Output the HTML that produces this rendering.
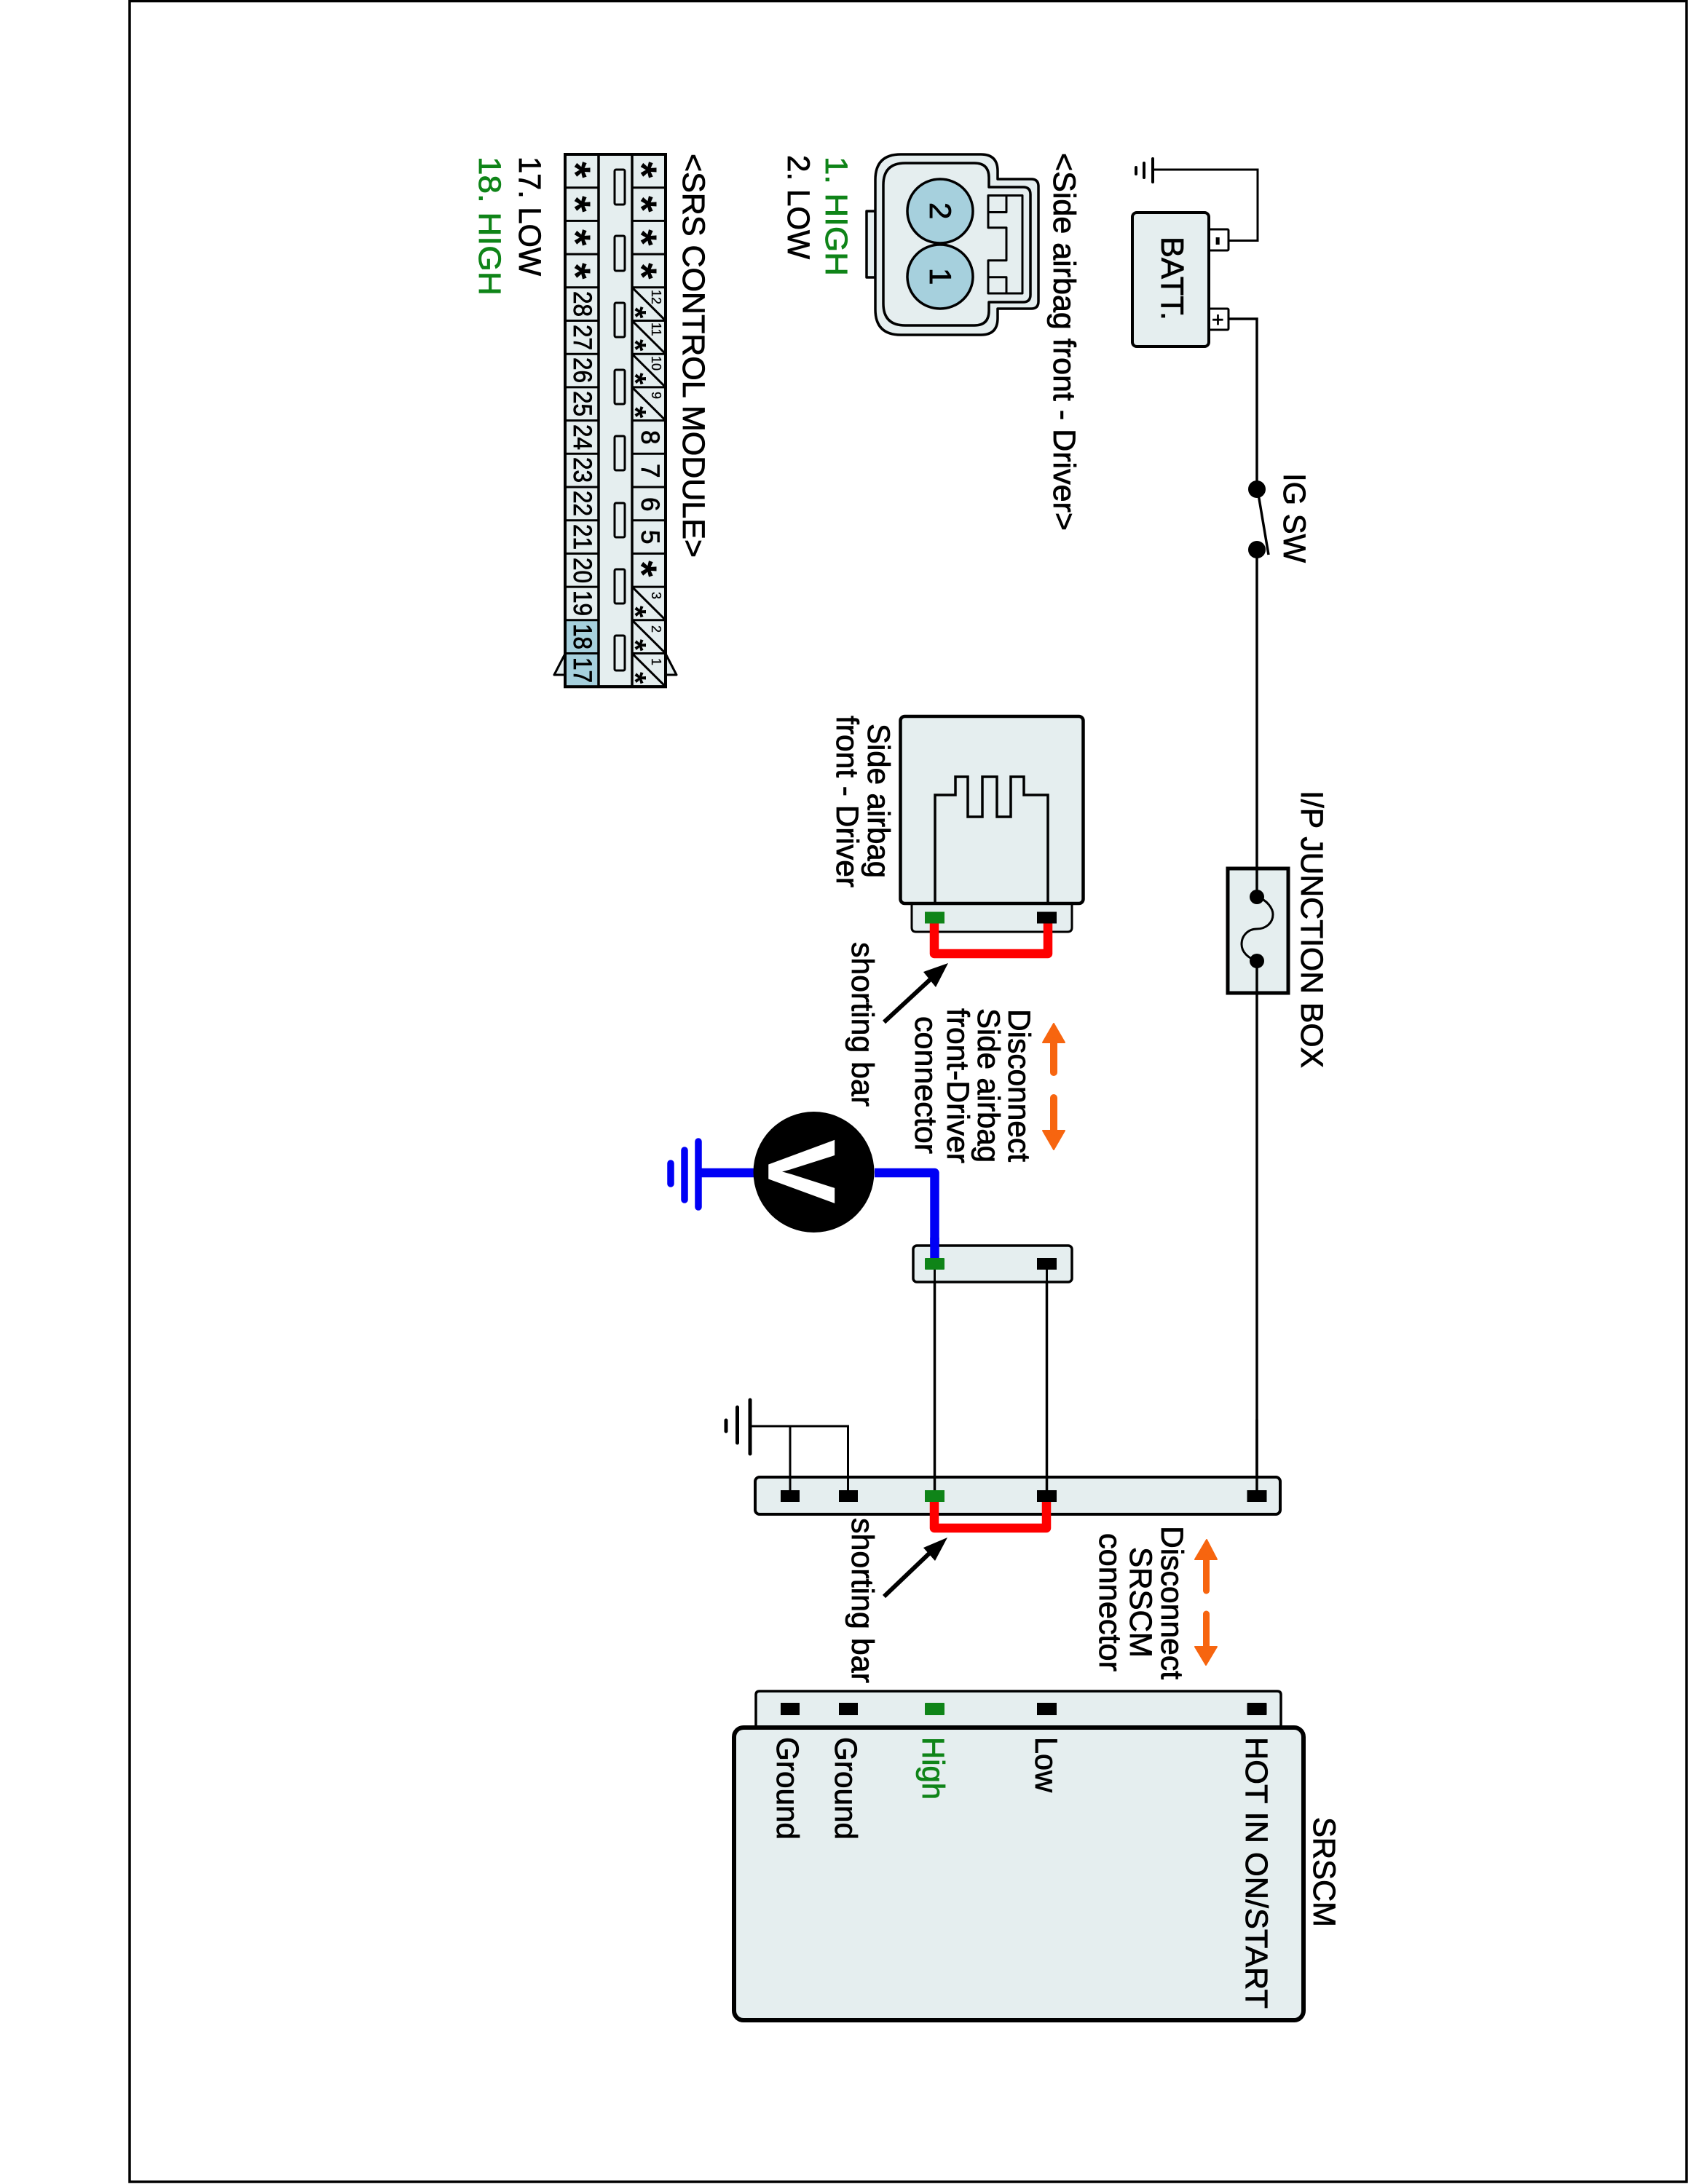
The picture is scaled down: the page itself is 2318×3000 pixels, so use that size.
<!DOCTYPE html>
<html>
<head>
<meta charset="utf-8">
<style>
html,body{margin:0;padding:0;background:#fff}
svg{display:block}
text{font-family:"Liberation Sans",Arial,sans-serif;fill:#000;stroke:#000;stroke-width:.8px}
.g{fill:#0f8418;stroke:#0f8418}
.n{font-size:35px}
.s{font-size:18px;stroke-width:.3px}
.a{font-size:58px;font-weight:bold;stroke-width:0}
.b{font-size:42px;font-weight:bold;stroke-width:0}
.l{font-size:43px}
</style>
</head>
<body>
<svg width="2318" height="3000" viewBox="0 0 2318 3000" xmlns="http://www.w3.org/2000/svg">
<rect width="2318" height="3000" fill="#fff"/>
<!-- frame -->
<path d="M178 1.5H2316V2997H178Z" fill="none" stroke="#000" stroke-width="3.5"/>

<!-- SRS control module connector -->
<g stroke="#000" stroke-width="3" fill="#e5eeef">
<path d="M776 898L761 927H776Z" stroke-linejoin="round"/>
<path d="M914 898L929 927H914Z" stroke-linejoin="round"/>
<rect x="776" y="212" width="138" height="731.2" stroke-width="4"/>
<rect x="776" y="851.8" width="46" height="91.4" fill="#a6d0dd" stroke="none"/>
<path fill="none" stroke-width="3.5" d="M822 212V943M868 212V943"/>
<path fill="none" stroke-width="3" d="M776 257.7H822M776 303.4H822M776 349.1H822M776 394.8H822M776 440.5H822M776 486.2H822M776 531.9H822M776 577.6H822M776 623.3H822M776 669H822M776 714.7H822M776 760.4H822M776 806.1H822M776 851.8H822M776 897.5H822"/>
<path fill="none" stroke-width="3" d="M868 257.7H914M868 303.4H914M868 349.1H914M868 394.8H914M868 440.5H914M868 486.2H914M868 531.9H914M868 577.6H914M868 623.3H914M868 669H914M868 714.7H914M868 760.4H914M868 806.1H914M868 851.8H914M868 897.5H914"/>
<path fill="none" stroke-width="3" d="M868 394.8L914 440.5M868 440.5L914 486.2M868 486.2L914 531.9M868 531.9L914 577.6M868 806.1L914 851.8M868 851.8L914 897.5M868 897.5L914 943.2"/>
<rect x="776" y="212" width="138" height="731.2" fill="none" stroke-width="4"/>
<g stroke-width="3">
<rect x="844" y="233" width="14" height="48" rx="2"/>
<rect x="844" y="324" width="14" height="48" rx="2"/>
<rect x="844" y="416" width="14" height="47" rx="2"/>
<rect x="844" y="508" width="14" height="47" rx="2"/>
<rect x="844" y="599" width="14" height="47" rx="2"/>
<rect x="844" y="691" width="14" height="47" rx="2"/>
<rect x="844" y="782" width="14" height="47" rx="2"/>
<rect x="844" y="873" width="14" height="48" rx="2"/>
</g>
</g>
<!-- asterisks -->
<text class="a" transform="translate(770,222) rotate(90)">*</text>
<text class="a" transform="translate(770,269) rotate(90)">*</text>
<text class="a" transform="translate(770,315) rotate(90)">*</text>
<text class="a" transform="translate(770,361) rotate(90)">*</text>
<text class="a" transform="translate(861,222) rotate(90)">*</text>
<text class="a" transform="translate(861,269) rotate(90)">*</text>
<text class="a" transform="translate(861,315) rotate(90)">*</text>
<text class="a" transform="translate(861,361) rotate(90)">*</text>
<text class="a" transform="translate(861,770) rotate(90)">*</text>
<text class="b" transform="translate(858,421) rotate(90)">*</text>
<text class="b" transform="translate(858,466) rotate(90)">*</text>
<text class="b" transform="translate(858,512) rotate(90)">*</text>
<text class="b" transform="translate(858,558) rotate(90)">*</text>
<text class="b" transform="translate(858,832) rotate(90)">*</text>
<text class="b" transform="translate(858,878) rotate(90)">*</text>
<text class="b" transform="translate(858,923) rotate(90)">*</text>
<!-- numbers left -->
<text class="n" transform="translate(788,400) rotate(90)" textLength="35" lengthAdjust="spacingAndGlyphs">28</text>
<text class="n" transform="translate(788,446) rotate(90)" textLength="35" lengthAdjust="spacingAndGlyphs">27</text>
<text class="n" transform="translate(788,491) rotate(90)" textLength="35" lengthAdjust="spacingAndGlyphs">26</text>
<text class="n" transform="translate(788,537) rotate(90)" textLength="35" lengthAdjust="spacingAndGlyphs">25</text>
<text class="n" transform="translate(788,583) rotate(90)" textLength="35" lengthAdjust="spacingAndGlyphs">24</text>
<text class="n" transform="translate(788,628) rotate(90)" textLength="35" lengthAdjust="spacingAndGlyphs">23</text>
<text class="n" transform="translate(788,674) rotate(90)" textLength="35" lengthAdjust="spacingAndGlyphs">22</text>
<text class="n" transform="translate(788,720) rotate(90)" textLength="35" lengthAdjust="spacingAndGlyphs">21</text>
<text class="n" transform="translate(788,766) rotate(90)" textLength="35" lengthAdjust="spacingAndGlyphs">20</text>
<text class="n" transform="translate(788,811) rotate(90)" textLength="35" lengthAdjust="spacingAndGlyphs">19</text>
<text class="n" transform="translate(788,857) rotate(90)" textLength="35" lengthAdjust="spacingAndGlyphs">18</text>
<text class="n" transform="translate(788,903) rotate(90)" textLength="35" lengthAdjust="spacingAndGlyphs">17</text>
<!-- numbers right -->
<text class="n" transform="translate(881,591) rotate(90)">8</text>
<text class="n" transform="translate(881,637) rotate(90)">7</text>
<text class="n" transform="translate(881,683) rotate(90)">6</text>
<text class="n" transform="translate(881,728) rotate(90)">5</text>
<text class="s" transform="translate(895,398) rotate(90)">12</text>
<text class="s" transform="translate(895,443) rotate(90)">11</text>
<text class="s" transform="translate(895,489) rotate(90)">10</text>
<text class="s" transform="translate(895,538) rotate(90)">9</text>
<text class="s" transform="translate(895,813) rotate(90)">3</text>
<text class="s" transform="translate(895,859) rotate(90)">2</text>
<text class="s" transform="translate(895,904) rotate(90)">1</text>

<text class="l" transform="translate(938,211) rotate(90)" textLength="555" lengthAdjust="spacingAndGlyphs">&lt;SRS CONTROL MODULE&gt;</text>
<text class="l" transform="translate(713,215) rotate(90)" textLength="164" lengthAdjust="spacingAndGlyphs">17. LOW</text>
<text class="l g" transform="translate(658,215) rotate(90)" textLength="191" lengthAdjust="spacingAndGlyphs">18. HIGH</text>

<!-- side airbag connector face -->
<g stroke="#000" fill="#e5eeef" stroke-width="3.5" stroke-linejoin="round">
<rect x="1190" y="290" width="12" height="91"/>
<path d="M1237 212H1347Q1370 212 1370 235V246H1416Q1426 246 1426 256V414Q1426 424 1416 424H1370V437Q1370 460 1347 460H1237Q1202 460 1202 425V247Q1202 212 1237 212Z"/>
<path d="M1243 224H1338Q1358 224 1358 244V257H1405Q1415 257 1415 267V405Q1415 415 1405 415H1358V427Q1358 447 1338 447H1243Q1213 447 1213 417V254Q1213 224 1243 224Z"/>
<path fill="none" stroke-width="3" d="M1357 268.5H1404V403H1357V357.7H1382V312.7H1357ZM1382 268.5V291.5H1357M1357 380.8H1382V403"/>
<ellipse cx="1291" cy="290" rx="45" ry="44" fill="#a6d0dd"/>
<ellipse cx="1291" cy="380" rx="45" ry="44" fill="#a6d0dd"/>
</g>
<text font-size="42" transform="translate(1277,278) rotate(90)">2</text>
<text font-size="42" transform="translate(1277,368) rotate(90)">1</text>
<text class="l" transform="translate(1447,210) rotate(90)" textLength="519" lengthAdjust="spacingAndGlyphs">&lt;Side airbag front - Driver&gt;</text>
<text class="l g" transform="translate(1134,215) rotate(90)" textLength="164" lengthAdjust="spacingAndGlyphs">1. HIGH</text>
<text class="l" transform="translate(1082,213) rotate(90)" textLength="143" lengthAdjust="spacingAndGlyphs">2. LOW</text>

<!-- battery -->
<g stroke="#000" fill="#fff" stroke-width="3">
<rect x="1660" y="315" width="27" height="29" rx="1.5"/>
<rect x="1660" y="424" width="27" height="29" rx="1.5"/>
<rect x="1555" y="292" width="105" height="184" rx="6" fill="#e5eeef" stroke-width="4"/>
</g>
<text font-size="36" font-weight="bold" transform="translate(1663,325) rotate(90)">-</text>
<text font-size="28" transform="translate(1663,431) rotate(90)">+</text>
<text font-size="44" transform="translate(1595,325) rotate(90)" textLength="115" lengthAdjust="spacingAndGlyphs">BATT.</text>
<g fill="none" stroke="#000" stroke-width="3.5">
<path d="M1687 330.5H1727V233H1583" stroke-width="3"/>
<path d="M1583 218V250M1571 224V244" stroke-width="4" stroke-linecap="round"/>
<path d="M1560 230V239" stroke-width="4" stroke-linecap="round"/>
<path d="M1687 438H1726V673"/>
<path d="M1727 673L1742 762"/>
<path d="M1726 756V1192"/>
<path d="M1726 1365V2047"/>
</g>
<circle cx="1726" cy="672" r="12"/>
<circle cx="1726" cy="755" r="12"/>
<text class="l" transform="translate(1763,650) rotate(90)" textLength="123" lengthAdjust="spacingAndGlyphs">IG SW</text>

<!-- junction box -->
<rect x="1686" y="1193" width="83" height="171" fill="#e5eeef" stroke="#000" stroke-width="5"/>
<path d="M1726 1192V1232M1726 1320V1365" stroke="#000" stroke-width="3.5" fill="none"/>
<path d="M1726 1232C1740 1236 1748 1248 1748 1256C1748 1268 1738 1276 1726 1276C1714 1276 1705 1285 1705 1297C1705 1308 1714 1316 1726 1320" fill="none" stroke="#000" stroke-width="3"/>
<circle cx="1726" cy="1232" r="10"/>
<circle cx="1726" cy="1320" r="10"/>
<text class="l" transform="translate(1787,1086) rotate(90)" textLength="381" lengthAdjust="spacingAndGlyphs">I/P JUNCTION BOX</text>

<!-- side airbag module -->
<path d="M1252 1242V1274Q1252 1280 1258 1280H1466Q1472 1280 1472 1274V1242" fill="#e5eeef" stroke="#000" stroke-width="3"/>
<rect x="1236.5" y="984" width="251" height="257" rx="6" fill="#e5eeef" stroke="#000" stroke-width="4.5"/>
<path d="M1284 1239V1092H1312V1067H1329V1122H1349V1067H1369V1122H1388V1067H1406V1092H1439V1239" fill="none" stroke="#000" stroke-width="3.5"/>
<path d="M1283 1268V1310H1439V1268" fill="none" stroke="#fe0000" stroke-width="12.5" stroke-linejoin="round"/>
<rect x="1270" y="1252.5" width="27" height="16" fill="#0f8418"/>
<rect x="1424" y="1252.5" width="27" height="16" fill="#000"/>
<path d="M1214 1404L1280 1343" stroke="#000" stroke-width="6" fill="none"/>
<path d="M1302 1323L1268 1335L1285 1356Z"/>
<text class="l" transform="translate(1170,1294) rotate(90)" textLength="226" lengthAdjust="spacingAndGlyphs">shorting bar</text>
<text class="l" transform="translate(1192,994) rotate(90)" textLength="212" lengthAdjust="spacingAndGlyphs">Side airbag</text>
<text class="l" transform="translate(1149,983) rotate(90)" textLength="236" lengthAdjust="spacingAndGlyphs">front - Driver</text>
<text class="l" transform="translate(1385,1386) rotate(90)" textLength="210" lengthAdjust="spacingAndGlyphs">Disconnect</text>
<text class="l" transform="translate(1343,1385) rotate(90)" textLength="212" lengthAdjust="spacingAndGlyphs">Side airbag</text>
<text class="l" transform="translate(1301,1385) rotate(90)" textLength="213" lengthAdjust="spacingAndGlyphs">front-Driver</text>
<text class="l" transform="translate(1257,1396) rotate(90)" textLength="189" lengthAdjust="spacingAndGlyphs">connector</text>
<!-- orange arrows -->
<g fill="#f7650f" stroke="#f7650f" stroke-linejoin="round" stroke-width="2">
<path d="M1447 1406L1432 1432H1462Z"/>
<path d="M1432 1553H1462L1447 1579Z"/>
<path d="M1657 2115L1641 2142H1671Z"/>
<path d="M1641 2262H1671L1656 2287Z"/>
</g>
<path d="M1447 1430V1473M1447 1508V1555" stroke="#f7650f" stroke-width="10" stroke-linecap="round" fill="none"/>
<path d="M1656.5 2140V2185M1656.5 2217V2264" stroke="#f7650f" stroke-width="9" stroke-linecap="round" fill="none"/>

<!-- voltmeter -->
<path d="M1201 1611H1283.5V1730M1036 1611H959" fill="none" stroke="#0000f5" stroke-width="12.5" stroke-linejoin="round"/>
<path d="M959 1568V1658M940 1580V1648M921 1598V1626" fill="none" stroke="#0000f5" stroke-width="9.5" stroke-linecap="round"/>
<ellipse cx="1117.5" cy="1610" rx="83" ry="83"/>
<text font-size="130" font-weight="bold" style="fill:#fff;stroke:#fff;stroke-width:1.5px" transform="translate(1056,1566) rotate(90)">V</text>

<!-- middle connector -->
<rect x="1254" y="1711" width="218" height="50" rx="5" fill="#e5eeef" stroke="#000" stroke-width="3.5"/>
<path d="M1283.5 1700V1730" stroke="#0000f5" stroke-width="12.5"/>
<rect x="1270" y="1728" width="27" height="16" rx="1" fill="#0f8418"/>
<rect x="1424" y="1728" width="27" height="16" fill="#000"/>
<path d="M1283.5 1744V2047M1437.5 1744V2047" stroke="#000" stroke-width="3" fill="none"/>

<!-- lower connector -->
<rect x="1037" y="2029" width="721" height="51" rx="6" fill="#e5eeef" stroke="#000" stroke-width="4"/>
<path d="M1283.5 1762V2047M1437.5 1762V2047M1726 1950V2047" stroke="#000" stroke-width="3.5" fill="none"/>
<path d="M1030 1959H1164.5V2047M1085 1959V2047" stroke="#000" stroke-width="3" fill="none"/>
<path d="M1030 1923V1997M1012.5 1933V1982M997 1951V1966" stroke="#000" stroke-width="5" stroke-linecap="round" fill="none"/>
<path d="M1283 2062V2099H1437V2062" fill="none" stroke="#fe0000" stroke-width="12.5" stroke-linejoin="round"/>
<rect x="1072" y="2047" width="26" height="16"/>
<rect x="1152" y="2047" width="26" height="16"/>
<rect x="1270" y="2047" width="27" height="16" fill="#0f8418"/>
<rect x="1424" y="2047" width="27" height="16"/>
<rect x="1712.5" y="2047" width="27" height="16"/>
<path d="M1214 2193L1280 2130" stroke="#000" stroke-width="6" fill="none"/>
<path d="M1301 2112L1268 2126L1284 2144Z"/>
<text class="l" transform="translate(1170,2085) rotate(90)" textLength="227" lengthAdjust="spacingAndGlyphs">shorting bar</text>
<text class="l" transform="translate(1595,2096) rotate(90)" textLength="211" lengthAdjust="spacingAndGlyphs">Disconnect</text>
<text class="l" transform="translate(1552,2125) rotate(90)" textLength="152" lengthAdjust="spacingAndGlyphs">SRSCM</text>
<text class="l" transform="translate(1510,2106) rotate(90)" textLength="190" lengthAdjust="spacingAndGlyphs">connector</text>

<!-- SRSCM -->
<path d="M1038 2375V2328Q1038 2323 1043 2323H1754Q1759 2323 1759 2328V2375" fill="#e5eeef" stroke="#000" stroke-width="3.5"/>
<rect x="1072" y="2339" width="26" height="17"/>
<rect x="1152" y="2339" width="26" height="17"/>
<rect x="1270" y="2339" width="27" height="17" rx="1" fill="#0f8418"/>
<rect x="1424" y="2339" width="27" height="17"/>
<rect x="1712.5" y="2339" width="27" height="17" rx="1"/>
<rect x="1008" y="2373" width="782" height="402" rx="13" fill="#e5eeef" stroke="#000" stroke-width="6"/>
<text class="l" transform="translate(1804,2496) rotate(90)" textLength="151" lengthAdjust="spacingAndGlyphs">SRSCM</text>
<text class="l" transform="translate(1711,2386) rotate(90)" textLength="373" lengthAdjust="spacingAndGlyphs">HOT IN ON/START</text>
<text class="l" transform="translate(1422,2386) rotate(90)" textLength="76" lengthAdjust="spacingAndGlyphs">Low</text>
<text class="l g" transform="translate(1267,2386) rotate(90)" textLength="86" lengthAdjust="spacingAndGlyphs">High</text>
<text class="l" transform="translate(1147,2386) rotate(90)" textLength="141" lengthAdjust="spacingAndGlyphs">Ground</text>
<text class="l" transform="translate(1067,2386) rotate(90)" textLength="141" lengthAdjust="spacingAndGlyphs">Ground</text>
</svg>
</body>
</html>
